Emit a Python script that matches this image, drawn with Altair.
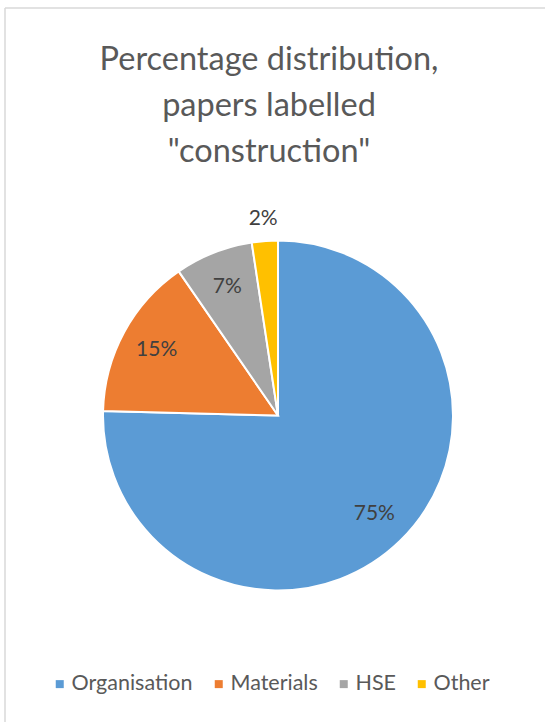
import altair as alt
import pandas as pd

categories = ["Organisation", "Materials", "HSE", "Other"]
values = [75.4, 15.0, 7.2, 2.4]
labels = ["75%", "15%", "7%", "2%"]
colors = ["#5B9BD5", "#ED7D31", "#A5A5A5", "#FFC000"]
title_lines = ["Percentage distribution,", "papers labelled", "\"construction\""]

df = pd.DataFrame({
    "category": categories,
    "value": values,
    "label": labels,
    "idx": list(range(len(categories))),
})

FONT = "Lato"
CX, CY, R = 278, 415.5, 175

base = alt.Chart(df).encode(
    theta=alt.Theta("value:Q", stack=True),
    order=alt.Order("idx:Q"),
    x=alt.value(CX),
    y=alt.value(CY),
)

pie = base.mark_arc(outerRadius=R, stroke="white", strokeWidth=2).encode(
    color=alt.Color(
        "category:N",
        sort=categories,
        scale=alt.Scale(domain=categories, range=colors),
        legend=alt.Legend(
            title=None,
            orient="none",
            direction="horizontal",
            legendX=49,
            legendY=673,
            symbolType="square",
            symbolSize=64,
            symbolStrokeWidth=0,
            labelFont=FONT,
            labelFontSize=21.5,
            labelColor="#595959",
            labelOffset=1,
            columnPadding=15,
        ),
    )
)

inside = base.transform_calculate(
    lab="datum.value >= 5 ? datum.label : ''"
).mark_text(
    radius=138, font=FONT, fontSize=21, color="#404040"
).encode(text="lab:N")

outside = base.transform_calculate(
    lab="datum.value < 5 ? datum.label : ''"
).mark_text(
    radius=197, font=FONT, fontSize=21, color="#404040"
).encode(text="lab:N")

title = alt.Chart(pd.DataFrame({"t": [0]})).mark_text(
    font=FONT, fontSize=32.5, color="#595959", align="center",
    baseline="alphabetic", lineHeight=46,
).encode(x=alt.value(269), y=alt.value(70), text=alt.value(title_lines))

border_top = alt.Chart(pd.DataFrame({"t": [0]})).mark_rule(
    color="#D9D9D9", strokeWidth=1.5
).encode(x=alt.value(5), x2=alt.value(545), y=alt.value(8))

border_left = alt.Chart(pd.DataFrame({"t": [0]})).mark_rule(
    color="#D9D9D9", strokeWidth=1.5
).encode(x=alt.value(5), y=alt.value(8), y2=alt.value(722))

chart = alt.layer(border_top, border_left, title, pie, inside, outside).properties(
    width=545,
    height=722,
    autosize=alt.AutoSizeParams(type="none"),
    padding=0,
    background="white",
).configure_view(stroke=None)

chart.save("out.html", embed_options={"renderer": "svg", "actions": False})
